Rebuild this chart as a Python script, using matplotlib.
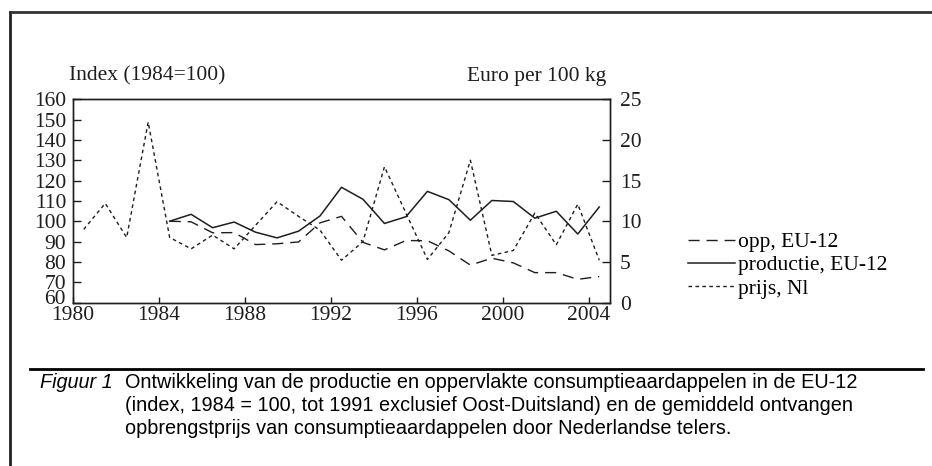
import matplotlib.pyplot as plt
from matplotlib.lines import Line2D
from matplotlib import font_manager
from matplotlib.transforms import offset_copy
import numpy as np

years = np.arange(1980, 2005)

# index 1984=100 (EU-12)
opp_years = np.arange(1984, 2005)
opp = [100, 99.7, 94.3, 94.4, 88.5, 88.9, 89.8, 99.2, 102.4, 89.6, 85.9,
       90.5, 90.4, 85.4, 78.4, 81.8, 79.5, 74.7, 74.7, 71.4, 72.8]
productie = [100, 103.4, 96.8, 99.6, 94.6, 91.8, 95.1, 102.6, 116.7, 110.8, 98.9,
             102.2, 114.7, 110.6, 100.5, 110.2, 109.7, 101.5, 104.9, 93.7, 107.0]

# euro per 100 kg
prijs = [9.0, 12.2, 8.0, 22.2, 8.0, 6.6, 8.3, 6.6, 9.5, 12.4, 10.6, 8.9, 5.2,
         7.5, 16.7, 11.0, 5.3, 8.6, 17.5, 5.8, 6.4, 11.0, 7.1, 12.1, 5.2]

left_ticks = list(range(60, 161, 10))
right_ticks = [0, 5, 10, 15, 20, 25]
x_ticks = [1980, 1984, 1988, 1992, 1996, 2000, 2004]

caption = ["Ontwikkeling van de productie en oppervlakte consumptieaardappelen in de EU-12",
           "(index, 1984 = 100, tot 1991 exclusief Oost-Duitsland) en de gemiddeld ontvangen",
           "opbrengstprijs van consumptieaardappelen door Nederlandse telers."]

SERIF = "Liberation Serif"
names = {f.name for f in font_manager.fontManager.ttflist}
SANS = "Liberation Sans Narrow" if "Liberation Sans Narrow" in names else "Liberation Sans"
CAP_FS = 17 if SANS.endswith("Narrow") else 14.3
INK = "#1e1e1e"
FS = 15.5

plt.rcParams["font.family"] = SERIF

fig = plt.figure(figsize=(9.32, 4.66), dpi=100)
W, H = 932, 466
ax = fig.add_axes([73 / W, 1 - 302.5 / H, 537 / W, 203.2 / H])
ax2 = ax.twinx()

mid = lambda y: np.asarray(y) + 0.5

ax.plot(mid(opp_years), opp, color=INK, lw=1.0, dashes=(8, 5))
ax.plot(mid(opp_years), productie, color=INK, lw=1.1)
ax2.plot(mid(years), prijs, color=INK, lw=1.0, dashes=(2.6, 2.4))

ax.set_xlim(1980, 2005)
ax.set_ylim(60, 160)
ax2.set_ylim(0, 25)
ax.set_xticks(x_ticks)
ax.set_yticks(left_ticks)
ax2.set_yticks(right_ticks)

for a in (ax, ax2):
    for s in a.spines.values():
        s.set_color(INK)
        s.set_linewidth(1.0)
ax.tick_params(axis="y", direction="in", length=6, width=1.0, pad=5,
               labelsize=FS, colors=INK)
ax.tick_params(axis="x", direction="in", length=4, width=1.0, pad=2.5,
               labelsize=FS, colors=INK)
ax2.tick_params(axis="y", direction="in", length=6, width=1.0, pad=7,
                labelsize=FS, colors=INK)

# lift the lowest left label a little, clear of the 1980 label, as in the original
lbl = ax.get_yticklabels()[0]
lbl.set_transform(offset_copy(lbl.get_transform(), fig=fig, y=4, units="points"))

fig.text(69 / W, 1 - 76 / H, "Index (1984=100)", fontsize=FS, color=INK,
         ha="left", va="center")
fig.text(606 / W, 1 - 76 / H, "Euro per 100 kg", fontsize=FS, color=INK,
         ha="right", va="center")

handles = [Line2D([], [], color=INK, lw=1.0, dashes=(8, 5)),
           Line2D([], [], color=INK, lw=1.1),
           Line2D([], [], color=INK, lw=1.0, dashes=(2.6, 2.4))]
fig.legend(handles, ["opp, EU-12", "productie, EU-12", "prijs, Nl"],
           loc="upper left", bbox_to_anchor=(688 / W, 1 - 232 / H),
           frameon=False, fontsize=FS, handlelength=2.2, handletextpad=0.14,
           labelspacing=0.15, borderaxespad=0, borderpad=0)

# frame and caption rule
fig.add_artist(Line2D([10 / W, 10 / W], [0, 1 - 12 / H], color="#222222", lw=2.0))
fig.add_artist(Line2D([10 / W, 1], [1 - 12 / H, 1 - 12 / H], color="#333333", lw=2.0))
fig.add_artist(Line2D([30 / W, 923 / W], [1 - 369 / H, 1 - 369 / H], color="black", lw=2.0))

fig.text(40 / W, 1 - 383 / H, "Figuur 1", family=SANS, style="italic",
         fontsize=CAP_FS, ha="left", va="center")
for i, line in enumerate(caption):
    fig.text(125 / W, 1 - (383 + 22.5 * i) / H, line, family=SANS,
             fontsize=CAP_FS, ha="left", va="center")

fig.savefig("out.png", dpi=100)
